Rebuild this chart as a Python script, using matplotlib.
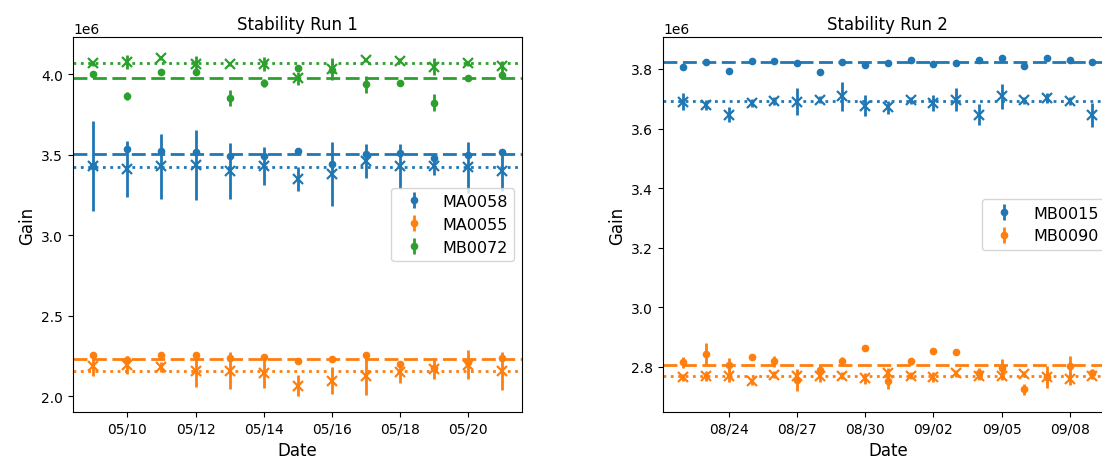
import pandas as pd
import matplotlib
matplotlib.use('Agg')
import matplotlib.pyplot as plt
import matplotlib.dates as mdates

# ---- run 1 (values in units of 1e6) ----
run1_dates = pd.date_range('2023-05-09', '2023-05-21', freq='D')
run1_modules = ['MA0058', 'MA0055', 'MB0072']
run1_colors = ['C0', 'C1', 'C2']

ma0058_dot = [3.430, 3.532, 3.522, 3.514, 3.489, 3.493, 3.522, 3.441, 3.503, 3.511, 3.476, 3.497, 3.514]
ma0058_dot_err = [0.01, 0.01, 0.01, 0.01, 0.01, 0.01, 0.005, 0.01, 0.01, 0.01, 0.01, 0.01, 0.01]
ma0058_x = [3.427, 3.410, 3.427, 3.435, 3.400, 3.427, 3.348, 3.379, 3.462, 3.427, 3.430, 3.420, 3.400]
ma0058_x_err = [0.28, 0.176, 0.20, 0.22, 0.174, 0.118, 0.075, 0.197, 0.106, 0.14, 0.056, 0.157, 0.128]

ma0055_dot = [2.255, 2.226, 2.255, 2.255, 2.234, 2.240, 2.217, 2.230, 2.255, 2.197, 2.172, 2.213, 2.234]
ma0055_dot_err = [0.01, 0.02, 0.01, 0.01, 0.01, 0.01, 0.02, 0.01, 0.01, 0.017, 0.02, 0.015, 0.01]
ma0055_x = [2.188, 2.190, 2.178, 2.157, 2.157, 2.141, 2.064, 2.095, 2.126, 2.147, 2.165, 2.193, 2.153]
ma0055_x_err = [0.062, 0.056, 0.031, 0.098, 0.114, 0.093, 0.064, 0.083, 0.117, 0.068, 0.062, 0.09, 0.118]

mb0072_dot = [3.998, 3.861, 4.012, 4.012, 3.849, 3.946, 4.035, 4.027, 3.936, 3.944, 3.822, 3.973, 3.994]
mb0072_dot_err = [0.01, 0.025, 0.008, 0.008, 0.05, 0.025, 0.01, 0.01, 0.054, 0.01, 0.054, 0.005, 0.01]
mb0072_x = [4.066, 4.077, 4.097, 4.062, 4.062, 4.062, 3.973, 4.031, 4.087, 4.083, 4.045, 4.068, 4.048]
mb0072_x_err = [0.015, 0.043, 0.01, 0.05, 0.015, 0.043, 0.04, 0.07, 0.015, 0.015, 0.054, 0.015, 0.036]

run1_dashed = [3.503, 2.230, 3.973]
run1_dotted = [3.420, 2.155, 4.066]

# ---- run 2 ----
run2_dates = pd.date_range('2023-08-22', '2023-09-09', freq='D')
run2_modules = ['MB0015', 'MB0090']
run2_colors = ['C0', 'C1']

mb0015_dot = [3.806, 3.822, 3.794, 3.827, 3.826, 3.820, 3.791, 3.822, 3.813, 3.819,
              3.830, 3.816, 3.819, 3.829, 3.838, 3.811, 3.835, 3.831, 3.824]
mb0015_dot_err = [0.005] * 19
mb0015_x = [3.690, 3.679, 3.646, 3.685, 3.692, 3.690, 3.697, 3.708, 3.677, 3.671,
            3.694, 3.685, 3.697, 3.647, 3.708, 3.694, 3.702, 3.693, 3.646]
mb0015_x_err = [0.028, 0.017, 0.025, 0.013, 0.013, 0.045, 0.013, 0.049, 0.034, 0.022,
                0.013, 0.027, 0.039, 0.035, 0.043, 0.013, 0.017, 0.013, 0.040]

mb0090_dot = [2.816, 2.844, 2.807, 2.835, 2.819, 2.757, 2.790, 2.819, 2.864, 2.752,
              2.819, 2.854, 2.850, 2.779, 2.797, 2.725, 2.767, 2.802, 2.780]
mb0090_dot_err = [0.018, 0.038, 0.022, 0.006, 0.018, 0.036, 0.012, 0.014, 0.004, 0.025,
                  0.011, 0.004, 0.004, 0.017, 0.030, 0.018, 0.037, 0.036, 0.014]
mb0090_x = [2.765, 2.769, 2.771, 2.752, 2.774, 2.771, 2.771, 2.771, 2.762, 2.780,
            2.771, 2.765, 2.779, 2.771, 2.771, 2.777, 2.765, 2.760, 2.771]
mb0090_x_err = [0.011, 0.017, 0.022, 0.011, 0.011, 0.02, 0.02, 0.011, 0.018, 0.018,
                0.011, 0.017, 0.011, 0.013, 0.015, 0.011, 0.02, 0.02, 0.012]

run2_dashed = [3.822, 2.808]
run2_dotted = [3.693, 2.771]

run1_data = [(ma0058_dot, ma0058_dot_err, ma0058_x, ma0058_x_err),
             (ma0055_dot, ma0055_dot_err, ma0055_x, ma0055_x_err),
             (mb0072_dot, mb0072_dot_err, mb0072_x, mb0072_x_err)]
run2_data = [(mb0015_dot, mb0015_dot_err, mb0015_x, mb0015_x_err),
             (mb0090_dot, mb0090_dot_err, mb0090_x, mb0090_x_err)]


def draw_run(ax, dates, modules, colors, data, dashed, dotted):
    for name, c, (d, de, x, xe), hd, hx in zip(modules, colors, data, dashed, dotted):
        s = 1e6
        ax.errorbar(dates, [v * s for v in d], yerr=[v * s for v in de],
                    fmt='o', ms=4.5, color=c, elinewidth=2, label=name)
        ax.errorbar(dates, [v * s for v in x], yerr=[v * s for v in xe],
                    fmt='x', ms=7, mew=1.6, color=c, elinewidth=2)
        ax.axhline(hd * s, color=c, lw=2, ls=(0, (5, 2)))
        ax.axhline(hx * s, color=c, lw=2, ls=':')
    ax.xaxis.set_major_formatter(mdates.DateFormatter('%m/%d'))
    ax.set_xlabel('Date', fontsize=12)
    ax.set_ylabel('Gain', fontsize=12)
    ax.legend(loc='center right', fontsize=11.5)


fig = plt.figure(figsize=(11.02, 4.64), dpi=100)
ax1 = fig.add_axes([0.0662, 0.1099, 0.4079, 0.8082])
ax2 = fig.add_axes([0.6016, 0.1099, 0.4083, 0.8082])

draw_run(ax1, run1_dates, run1_modules, run1_colors, run1_data, run1_dashed, run1_dotted)
ax1.set_xticks(pd.date_range('2023-05-10', '2023-05-20', freq='2D'))
ax1.set_ylim(1.901e6, 4.230e6)
ax1.set_title('Stability Run 1', fontsize=12)

draw_run(ax2, run2_dates, run2_modules, run2_colors, run2_data, run2_dashed, run2_dotted)
ax2.set_xticks(pd.date_range('2023-08-24', '2023-09-08', freq='3D'))
ax2.set_ylim(2.649e6, 3.907e6)
ax2.set_title('Stability Run 2', fontsize=12)

fig.savefig('out.png', dpi=100)
